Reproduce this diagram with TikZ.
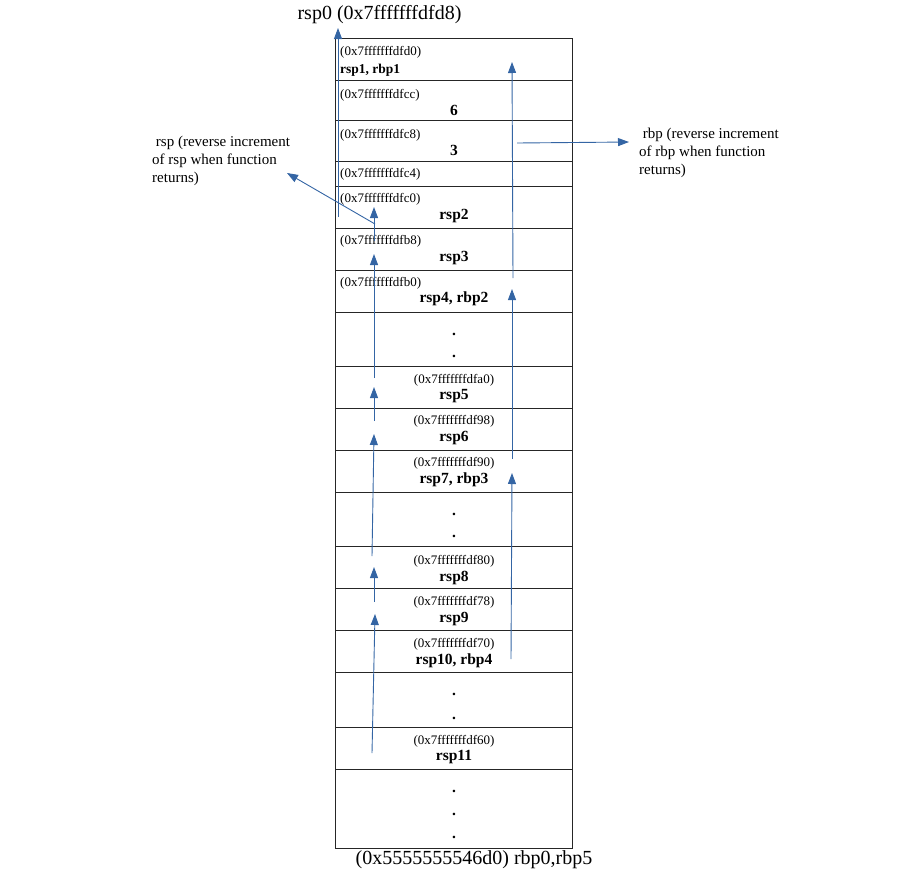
\documentclass[tikz,border=0pt]{standalone}
\usepackage{fontspec}
\setmainfont{Liberation Serif}
\usetikzlibrary{arrows.meta}
\definecolor{arrowblue}{HTML}{3465A4}

\begin{document}
\begin{tikzpicture}[x=1pt,y=-1pt]
  \tikzstyle{every node}=[inner sep=0pt]
  \tikzstyle{cell}=[draw=black!85,line width=0.9pt,rectangle,minimum width=237pt]
  \tikzstyle{addr}=[font=\fontsize{13}{15}\selectfont]
  \tikzstyle{val}=[font=\fontsize{15.5}{18}\selectfont\bfseries]
  \tikzstyle{note}=[font=\fontsize{15}{18}\selectfont,align=left,anchor=west]
  \tikzstyle{big}=[font=\fontsize{20}{23}\selectfont]
  \tikzstyle{jump}=[draw=arrowblue,line width=0.9pt,-{Triangle[length=11pt,width=8pt]}]
  \useasboundingbox (0,0) rectangle (915,884);

  \node[cell,minimum height=42pt] (r1) at (453.5,59) {};
  \node[cell,minimum height=40pt] (r2) at (453.5,100) {};
  \node[cell,minimum height=41pt] (r3) at (453.5,140.5) {};
  \node[cell,minimum height=25pt] (r4) at (453.5,173.5) {};
  \node[cell,minimum height=42pt] (r5) at (453.5,207) {};
  \node[cell,minimum height=42pt] (r6) at (453.5,249) {};
  \node[cell,minimum height=42pt] (r7) at (453.5,291) {};
  \node[cell,minimum height=54pt] (r8) at (453.5,339) {};
  \node[cell,minimum height=42pt] (r9) at (453.5,387) {};
  \node[cell,minimum height=42pt] (r10) at (453.5,429) {};
  \node[cell,minimum height=42pt] (r11) at (453.5,471) {};
  \node[cell,minimum height=54pt] (r12) at (453.5,519) {};
  \node[cell,minimum height=42pt] (r13) at (453.5,567) {};
  \node[cell,minimum height=42pt] (r14) at (453.5,609) {};
  \node[cell,minimum height=42pt] (r15) at (453.5,651) {};
  \node[cell,minimum height=55pt] (r16) at (453.5,699.5) {};
  \node[cell,minimum height=42pt] (r17) at (453.5,748) {};
  \node[cell,minimum height=79pt] (r18) at (453.5,808.5) {};

  \node[addr,anchor=west] (a1) at (340,52.7) {(0x7fffffffdfd0)};
  \node[val,anchor=west,font=\fontsize{13.5}{16}\selectfont\bfseries] (v1) at (340,70.5) {rsp1, rbp1};
  \node[addr,anchor=west] (a2) at (340,95) {(0x7fffffffdfcc)};
  \node[val] (v2) at (454,110) {6};
  \node[addr,anchor=west] (a3) at (340,135) {(0x7fffffffdfc8)};
  \node[val] (v3) at (454,150) {3};
  \node[addr,anchor=west] (a4) at (340,174) {(0x7fffffffdfc4)};
  \node[addr,anchor=west] (a5) at (340,199) {(0x7fffffffdfc0)};
  \node[val] (v5) at (454,216) {rsp2};
  \node[addr,anchor=west] (a6) at (340,241) {(0x7fffffffdfb8)};
  \node[val] (v6) at (454,258) {rsp3};
  \node[addr,anchor=west] (a7) at (340,283) {(0x7fffffffdfb0)};
  \node[val] (v7) at (454,298.5) {rsp4, rbp2};
  \node[val] (d8a) at (454,334) {.};
  \node[val] (d8b) at (454,356) {.};
  \node[addr] (a9) at (454,380) {(0x7fffffffdfa0)};
  \node[val] (v9) at (454,396) {rsp5};
  \node[addr] (a10) at (454,421) {(0x7fffffffdf98)};
  \node[val] (v10) at (454,438) {rsp6};
  \node[addr] (a11) at (454,463) {(0x7fffffffdf90)};
  \node[val] (v11) at (454,479.5) {rsp7, rbp3};
  \node[val] (d12a) at (454,514) {.};
  \node[val] (d12b) at (454,536) {.};
  \node[addr] (a13) at (454,561) {(0x7fffffffdf80)};
  \node[val] (v13) at (454,577.5) {rsp8};
  \node[addr] (a14) at (454,602) {(0x7fffffffdf78)};
  \node[val] (v14) at (454,619) {rsp9};
  \node[addr] (a15) at (454,644) {(0x7fffffffdf70)};
  \node[val] (v15) at (454,660.5) {rsp10, rbp4};
  \node[val] (d16a) at (454,694) {.};
  \node[val] (d16b) at (454,718) {.};
  \node[addr] (a17) at (454,741) {(0x7fffffffdf60)};
  \node[val] (v17) at (454,757.5) {rsp11};
  \node[val] (d18a) at (454,791) {.};
  \node[val] (d18b) at (454,814) {.};
  \node[val] (d18c) at (454,837) {.};

  \node[big] (top) at (379.5,15) {rsp0 (0x7fffffffdfd8)};
  \node[big] (bottom) at (474,860) {(0x5555555546d0) rbp0,rbp5};
  \node[note] (rspnote) at (152,161) {\ rsp (reverse increment\\of rsp when function\\returns)};
  \node[note] (rbpnote) at (639,153) {\ rbp (reverse increment\\of rbp when function\\returns)};

  \coordinate (sp0) at (338,217);
  \coordinate (sp0end) at (338,28);
  \coordinate (sp11) at (372,753);
  \coordinate (sp9in) at (375,614);
  \coordinate (sp9) at (374,602);
  \coordinate (sp8in) at (374,567);
  \coordinate (sp8) at (372,556);
  \coordinate (sp6in) at (374,434);
  \coordinate (sp6) at (374,421);
  \coordinate (sp5in) at (374,387);
  \coordinate (sp5) at (374,378);
  \coordinate (sp3in) at (374,254);
  \coordinate (sp3) at (374,241);
  \coordinate (sp2in) at (374,207);
  \coordinate (sp2) at (375,224);
  \coordinate (spnote) at (287,173);
  \coordinate (bp4) at (511,659);
  \coordinate (bp3in) at (512,473);
  \coordinate (bp3) at (512,459);
  \coordinate (bp2in) at (512,289);
  \coordinate (bp2) at (513,278);
  \coordinate (bp1in) at (512,62);
  \coordinate (bpfrom) at (517,143);
  \coordinate (bpnote) at (629,142);

  \draw[jump] (sp0) -- (sp0end);
  \draw[jump] (sp11) -- (sp9in);
  \draw[jump] (sp9) -- (sp8in);
  \draw[jump] (sp8) -- (sp6in);
  \draw[jump] (sp6) -- (sp5in);
  \draw[jump] (sp5) -- (sp3in);
  \draw[jump] (sp3) -- (sp2in);
  \draw[jump] (sp2) -- (spnote);
  \draw[jump] (bp4) -- (bp3in);
  \draw[jump] (bp3) -- (bp2in);
  \draw[jump] (bp2) -- (bp1in);
  \draw[jump] (bpfrom) -- (bpnote);

\end{tikzpicture}
\end{document}
